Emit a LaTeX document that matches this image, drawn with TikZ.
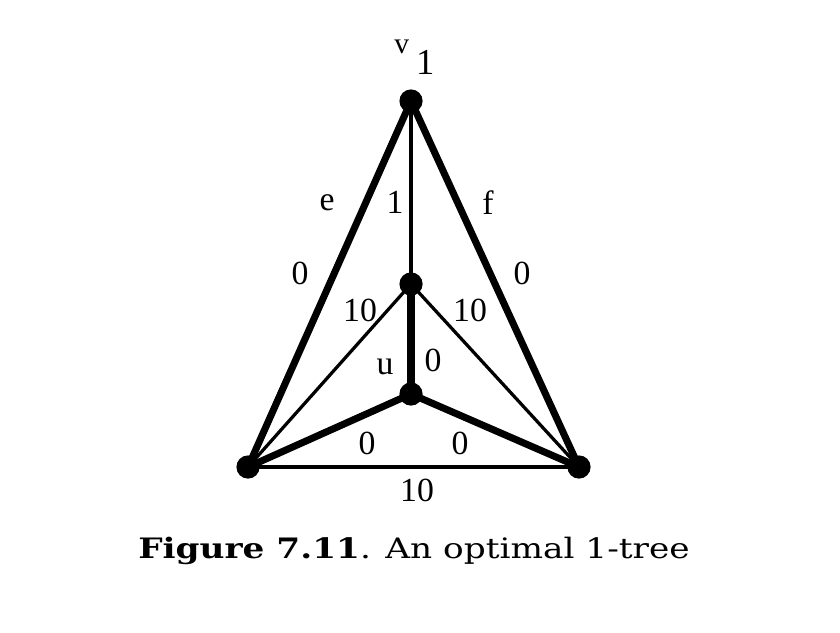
\documentclass[tikz,border=0pt]{standalone}
\usepackage{fontspec}
\setmainfont{Liberation Serif}
\newfontfamily\capfont{DejaVu Serif}
\usetikzlibrary{arrows}

\begin{document}
\begin{tikzpicture}[x=0.025cm,y=-0.025cm,
      vertex/.style={circle,fill=black,inner sep=0pt,minimum size=0.58cm},
      heavy/.style={line width=5pt},
      light/.style={line width=2.3pt},
      weight/.style={inner sep=0pt,font=\fontsize{24}{28}\selectfont}]
    \useasboundingbox (0,0) rectangle (840,632);
    \node[vertex] (v1) at (411,101) {};
    \node[vertex] (w)  at (411,284) {};
    \node[vertex] (u)  at (411,394) {};
    \node[vertex] (L)  at (248,467) {};
    \node[vertex] (R)  at (579,467) {};
         \path
         (v1.center) edge [heavy] (L.center)
              edge [heavy] (R.center)
              edge [line width=2.8pt] (w.center)
         (w.center)  edge [heavy] (u.center)
              edge [light] (L.center)
              edge [light] (R.center)
         (u.center)  edge [heavy] (L.center)
              edge [heavy] (R.center)
         (L.center)  edge [light] (R.center);
    % labels
    \node[inner sep=0pt,anchor=base west,font=\fontsize{21}{26}\selectfont] (v1lab) at (394,53)
         {v\hspace{5pt}\raisebox{-15.6pt}{\fontsize{26}{30}\selectfont 1}};
    \node[weight] (e)   at (327,203) {e};
    \node[weight] (one) at (395,202) {1};
    \node[weight] (f)   at (488,203) {f};
    \node[weight] (wl)  at (300,273) {0};
    \node[weight] (wr)  at (522,273) {0};
    \node[weight] (ml)  at (360,310) {10};
    \node[weight] (mr)  at (470,310) {10};
    \node[weight] (ulab) at (385,367) {u};
    \node[weight] (wu)  at (433,360) {0};
    \node[weight] (ul)  at (367,443) {0};
    \node[weight] (ur)  at (460,443) {0};
    \node[weight] (lr)  at (417,490) {10};
    \node[inner sep=0pt,anchor=base,font=\capfont\fontsize{20}{24}\selectfont] (cap) at (414,558)
         {\scalebox{1.22}[1]{\textbf{Figure 7.11}. An optimal 1-tree}};
  \end{tikzpicture}
\end{document}
